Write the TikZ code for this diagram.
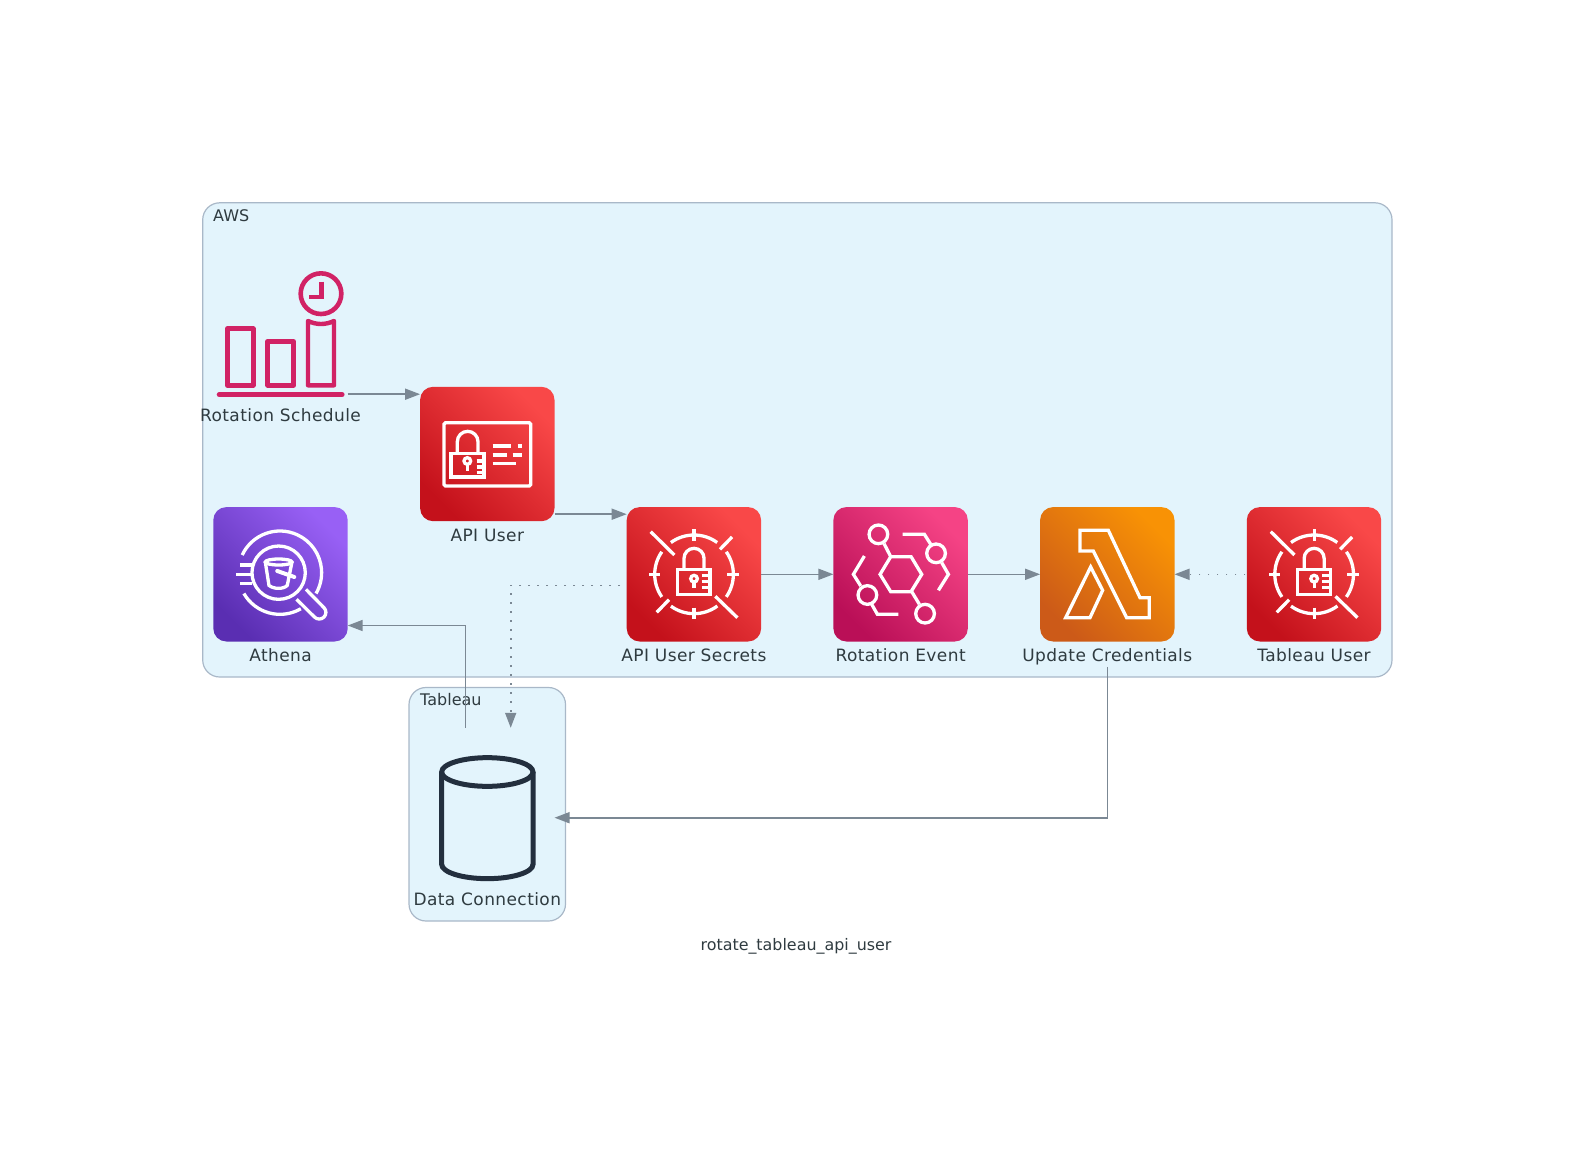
\documentclass[tikz,border=0pt]{standalone}
\usepackage{fontspec}
\setmainfont{DejaVu Sans}
\newfontfamily\labfont[LetterSpace=2.4]{DejaVu Sans}
\usetikzlibrary{arrows.meta,calc}
\definecolor{clfill}{HTML}{E3F4FC}
\definecolor{clline}{HTML}{A9B8C8}
\definecolor{conn}{HTML}{7B8894}
\definecolor{txt}{HTML}{2F3B40}
\definecolor{pinkline}{HTML}{D12265}
\definecolor{navy}{HTML}{232F3E}
\definecolor{BDred}{HTML}{C4111B}\definecolor{FFred}{HTML}{F94848}
\definecolor{BDpurple}{HTML}{5A2EB2}\definecolor{FFpurple}{HTML}{9860F5}
\definecolor{BDpink}{HTML}{BA0F57}\definecolor{FFpink}{HTML}{F54385}
\definecolor{BDorange}{HTML}{CC5A18}\definecolor{FForange}{HTML}{F89205}
\tikzset{
  cluster/.style={draw=clline,fill=clfill,line width=1.2pt,rounded corners=17pt},
  cltext/.style={text=txt,anchor=west,inner sep=0pt,font=\fontsize{16}{18}\selectfont},
  lab/.style={text=txt,inner sep=0pt,anchor=base,font=\labfont\fontsize{17}{20}\selectfont},
  iconbox/.style={minimum width=134.4pt,minimum height=134.4pt,inner sep=0pt,outer sep=0pt,rounded corners=13pt},
  redbox/.style={iconbox,bottom color=BDred,top color=FFred,shading angle=-45},
  purplebox/.style={iconbox,bottom color=BDpurple,top color=FFpurple,shading angle=-45},
  pinkbox/.style={iconbox,bottom color=BDpink,top color=FFpink,shading angle=-45},
  orangebox/.style={iconbox,bottom color=BDorange,top color=FForange,shading angle=-45},
  plainbox/.style={minimum width=134.4pt,minimum height=134.4pt,inner sep=0pt,outer sep=0pt},
  edge/.style={draw=conn,line width=1.6pt,-{Triangle[length=15pt,width=11pt,fill=conn]}},
  dotedge/.style={edge,dash pattern=on 1.6pt off 7.4pt},
  ic/.style={draw=white,line width=3.3pt,line cap=butt,line join=miter},
  icscope/.style={x=0.33333pt,y=-0.33333pt}
}
\newcommand{\secreticon}{%
  \draw[ic] (202,202) ++(234:118) arc[start angle=234,end angle=306,radius=118];
  \draw[ic] (202,202) ++(145:118) arc[start angle=145,end angle=215,radius=118];
  \draw[ic] (202,202) ++(53.6:118) arc[start angle=53.6,end angle=126,radius=118];
  \draw[ic] (202,202) ++(-35:118) arc[start angle=-35,end angle=35,radius=118];
  \draw[ic] (202,67)--(202,102) (202,302)--(202,337) (68,202)--(100,202) (302,202)--(336,202);
  \draw[ic] (72,74)--(143,144) (280,127)--(316,90) (266,268)--(332,332) (90,316)--(127,278);
  \draw[ic] (152,187) rectangle (250,262);
  \draw[ic] (172,187)--(172,154) arc[start angle=180,end angle=360,radius=30]--(232,187);
  \draw[ic] (202,215) circle[radius=10];
  \draw[ic] (202,225)--(202,244) (225,205)--(250,205) (225,224)--(250,224) (225,242)--(250,242);
}
\begin{document}
\begin{tikzpicture}[x=1pt,y=-1pt]
\useasboundingbox (0,0) rectangle (1595,1151);
% clusters
\draw[cluster] (202.7,202.8) rectangle (1392,677);
\draw[cluster] (409,687.5) rectangle (565.5,921);
\node[cltext] (awslabel) at (213,216) {AWS};
\node[cltext] (tableaulabel) at (420,700) {Tableau};
% nodes
\node[plainbox] (sched) at (280.5,327) {};
\node[redbox] (api) at (487.3,454) {};
\node[purplebox] (athena) at (280.5,574.3) {};
\node[redbox] (secrets) at (693.9,574.3) {};
\node[pinkbox] (event) at (900.6,574.3) {};
\node[orangebox] (lambda) at (1107.3,574.3) {};
\node[redbox] (tuser) at (1314,574.3) {};
\node[plainbox] (data) at (487.3,795) {};
% labels
\node[lab] (l1) at (280.5,421) {Rotation Schedule};
\node[lab] (l2) at (487.3,541) {API User};
\node[lab] (l3) at (280.5,661) {Athena};
\node[lab] (l4) at (693.9,661) {API User Secrets};
\node[lab] (l5) at (900.6,661) {Rotation Event};
\node[lab] (l6) at (1107.3,661) {Update Credentials};
\node[lab] (l7) at (1314,661) {Tableau User};
\node[lab] (l8) at (487.3,905) {Data Connection};
\node[text=txt,inner sep=0pt,font=\fontsize{15.9}{18}\selectfont] (caption) at (796,946.5) {rotate\_tableau\_api\_user};
% connectors
\draw[edge] (sched.south east) -- (sched.south east -| api.west);
\draw[edge] ([yshift=7pt]api.south east) -- ([yshift=7pt]api.south east -| secrets.west);
\draw[edge] (secrets.east) -- (event.west);
\draw[edge] (event.east) -- (lambda.west);
\draw[dotedge] ([xshift=-1.5pt]tuser.west) -- (lambda.east);
\draw[dotedge] ([xshift=-6.7pt,yshift=-11pt]secrets.west) -| ([xshift=23.4pt]data.north);
\draw[edge] ([xshift=-22pt]data.north) |- ([yshift=16pt]athena.south east);
\draw[edge] ([yshift=-25.3pt]lambda.south) |- ([yshift=-22.7pt]data.east);
% schedule icon
\begin{scope}[shift={(190,251)},icscope]
  \draw[pinkline,line width=4.6pt] (393,128) circle[radius=61];
  \draw[pinkline,line width=4.4pt] (395,92)--(395,138)--(356,138);
  \draw[pinkline,line width=4.4pt,line join=round] (112,233) rectangle (190,403);
  \draw[pinkline,line width=4.4pt,line join=round] (233,271) rectangle (311,403);
  \draw[pinkline,line width=4.4pt,line join=round] (354,210) .. controls (380,222) and (406,222) .. (432,210) -- (432,403) -- (354,403) -- cycle;
  \draw[pinkline,line width=5.2pt,line cap=round] (88,431)--(456,431);
\end{scope}
% API user icon
\begin{scope}[shift={(420,387)},icscope]
  \draw[ic,rounded corners=1.5pt] (72,107) rectangle (332,297);
  \draw[ic] (93,200) rectangle (192,270);
  \draw[ic] (112,200)--(112,164) arc[start angle=180,end angle=360,radius=31]--(174,200);
  \draw[ic] (142,222) circle[radius=10];
  \draw[ic] (142,232)--(142,252) (170,222)--(192,222) (170,240)--(192,240) (170,256)--(192,256);
  \draw[ic] (218,177)--(272,177) (293,177)--(305,177) (218,204)--(260,204) (278,204)--(305,204) (218,230)--(288,230);
\end{scope}
% Athena icon
\begin{scope}[shift={(213.3,507)},icscope]
  \draw[ic] (200,197) ++(205:125) arc[start angle=205,end angle=390,radius=125];
  \draw[ic] (200,197) ++(60:125) arc[start angle=60,end angle=150,radius=125];
  \draw[ic] (196,197) circle[radius=80];
  \draw[ic] (278,247)--(332,302) arc[start angle=-45,end angle=135,radius=20]--(250,277);
  \draw[ic] (196,165) ellipse[x radius=40,y radius=9];
  \draw[ic] (156,165)--(167,235) .. controls (180,247) and (212,247) .. (222,235)--(236,165);
  \draw[ic,line width=4pt,line cap=round] (192,192)--(243,210);
  \draw[ic] (68,202)--(115,202) (80,174)--(115,174) (80,229)--(115,229);
\end{scope}
% secrets icons
\begin{scope}[shift={(626.7,507)},icscope] \secreticon \end{scope}
\begin{scope}[shift={(1246.8,507)},icscope] \secreticon \end{scope}
% event icon
\begin{scope}[shift={(833.4,507)},icscope]
  \draw[ic] (140,202)--(172,149)--(233,149)--(265,202)--(233,254)--(172,254)--cycle;
  \draw[ic] (135,82) circle[radius=28] (308,139) circle[radius=28] (102,264) circle[radius=28] (275,320) circle[radius=28];
  \draw[ic] (152,110)--(172,149) (235,254)--(258,292);
  \draw[ic] (208,82)--(273,82)--(292,112);
  \draw[ic] (325,167)--(345,202)--(315,250);
  \draw[ic] (93,147)--(60,202)--(82,237);
  \draw[ic] (115,292)--(132,322)--(195,322);
\end{scope}
% lambda icon
\begin{scope}[shift={(1040,507)},icscope]
  \draw[ic] (120,70)--(205,70)--(300,272)--(328,272)--(328,332)--(260,332)--(160,132)--(120,132)--cycle;
  \draw[ic] (152,180)--(188,250)--(150,332)--(77,332)--cycle;
\end{scope}
% cylinder icon
\begin{scope}[shift={(400,671)},icscope]
  \draw[navy,line width=5pt] (262,303) ellipse[x radius=137,y radius=43];
  \draw[navy,line width=5pt] (125,303)--(125,580) arc[start angle=180,end angle=0,x radius=137,y radius=43]--(399,303);
\end{scope}
\end{tikzpicture}
\end{document}
